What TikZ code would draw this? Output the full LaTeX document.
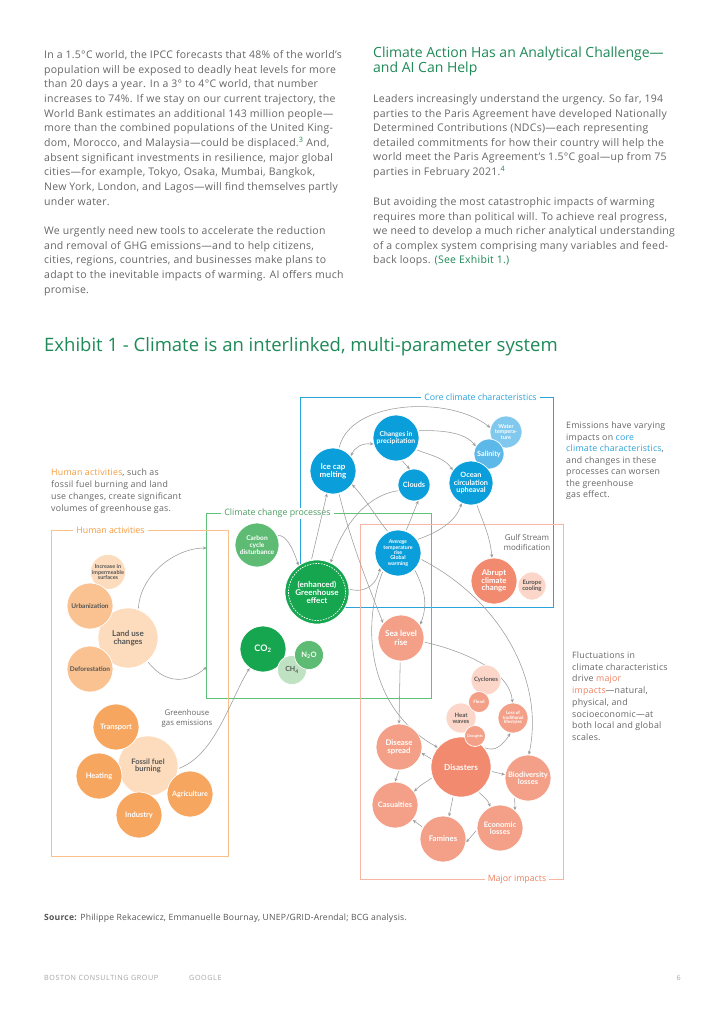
\documentclass[tikz,border=0pt]{standalone}
\usepackage{fontspec}
\setmainfont{Open Sans}
\newfontfamily\bubfam{Lato}
\newfontfamily\bodyfam{Open Sans}[LetterSpace=2.5]
\newfontfamily\widefam{Open Sans}[LetterSpace=8]
\usetikzlibrary{arrows.meta}
\pgfdeclarelayer{bg}
\pgfsetlayers{bg,main}
\definecolor{txtgray}{HTML}{666666}
\definecolor{dkgray}{HTML}{555555}
\definecolor{titlegreen}{HTML}{1E8A57}
\definecolor{arrgray}{HTML}{9B9B9B}
\definecolor{blueD}{HTML}{0A9EDB}
\definecolor{blueM}{HTML}{5CB8E8}
\definecolor{blueL}{HTML}{80C8EE}
\definecolor{boxblue}{HTML}{2AA3DB}
\definecolor{greenD}{HTML}{17A650}
\definecolor{greenM}{HTML}{5DBB74}
\definecolor{greenL}{HTML}{BFE2C3}
\definecolor{boxgreen}{HTML}{5EC27A}
\definecolor{orangeD}{HTML}{F7A660}
\definecolor{orangeM}{HTML}{F9C290}
\definecolor{orangeL}{HTML}{FDDCBD}
\definecolor{boxorange}{HTML}{F9C08A}
\definecolor{horange}{HTML}{F79A3E}
\definecolor{salD}{HTML}{F18A6E}
\definecolor{salM}{HTML}{F4A088}
\definecolor{salL}{HTML}{FCD6C8}
\definecolor{boxsal}{HTML}{F7B6A4}
\definecolor{salT}{HTML}{F08060}
\newcommand{\bodyfnt}{\bodyfam\fontsize{10.5}{12}\selectfont}
\newcommand{\sidefnt}{\bodyfam\fontsize{8.8}{10}\selectfont}
\newcommand{\bfnt}[1]{\bubfam\fontsize{#1}{#1}\selectfont\bfseries}
\tikzset{
  bodyline/.style={anchor=base west, inner sep=0pt, text=txtgray, font=\bodyfnt},
  sideline/.style={anchor=base west, inner sep=0pt, text=txtgray, font=\sidefnt},
  bub/.style={circle, inner sep=0pt, align=center, draw=white, line width=0.7pt, text=white},
  boxlabel/.style={fill=white, inner xsep=3pt, inner ysep=1pt, font=\fontsize{8.8}{10}\selectfont},
  arr/.style={draw=arrgray, line width=0.55pt, -{Stealth[length=3.6pt,width=3.2pt]}, shorten <=1pt},
  darr/.style={draw=arrgray, line width=0.55pt, {Stealth[length=3.6pt,width=3.2pt]}-{Stealth[length=3.6pt,width=3.2pt]}},
  boxline/.style={line width=0.9pt},
}
\begin{document}
\begin{tikzpicture}[x=1pt,y=-1pt]
\useasboundingbox (0,0) rectangle (724,1024);

% ---------- Left column text ----------
\foreach \ln [count=\i from 0] in {
 {In a 1.5°C world, the IPCC forecasts that 48\% of the world’s},
 {population will be exposed to deadly heat levels for more},
 {than 20 days a year. In a 3° to 4°C world, that number},
 {increases to 74\%. If we stay on our current trajectory, the},
 {World Bank estimates an additional 143 million people—},
 {more than the combined populations of the United King-},
 {dom, Morocco, and Malaysia—could be displaced.\textsuperscript{\textcolor{titlegreen}{3}} And,},
 {absent significant investments in resilience, major global},
 {cities—for example, Tokyo, Osaka, Mumbai, Bangkok,},
 {New York, London, and Lagos—will find themselves partly},
 {under water.}}
 \node[bodyline] (lp\i) at (44,58.7+14.65*\i) {\ln};
\foreach \ln [count=\i from 12] in {
 {We urgently need new tools to accelerate the reduction},
 {and removal of GHG emissions—and to help citizens,},
 {cities, regions, countries, and businesses make plans to},
 {adapt to the inevitable impacts of warming. AI offers much},
 {promise.}}
 \node[bodyline] (lq\i) at (44,58.7+14.65*\i) {\ln};

% ---------- Right column ----------
\node[anchor=base west, inner sep=0pt, text=titlegreen, font=\fontsize{14}{15}\selectfont] (h1) at (373,58) {Climate Action Has an Analytical Challenge—};
\node[anchor=base west, inner sep=0pt, text=titlegreen, font=\fontsize{14}{15}\selectfont] (h2) at (373,73) {and AI Can Help};
\foreach \ln [count=\i from 0] in {
 {Leaders increasingly understand the urgency. So far, 194},
 {parties to the Paris Agreement have developed Nationally},
 {Determined Contributions (NDCs)—each representing},
 {detailed commitments for how their country will help the},
 {world meet the Paris Agreement’s 1.5°C goal—up from 75},
 {parties in February 2021.\textsuperscript{\textcolor{titlegreen}{4}}}}
 \node[bodyline] (rp\i) at (373,102.5+14.6*\i) {\ln};
\foreach \ln [count=\i from 0] in {
 {But avoiding the most catastrophic impacts of warming},
 {requires more than political will. To achieve real progress,},
 {we need to develop a much richer analytical understanding},
 {of a complex system comprising many variables and feed-},
 {back loops. \textcolor{titlegreen}{(See Exhibit 1.)}}}
 \node[bodyline] (rq\i) at (373,205.5+14.55*\i) {\ln};

% ---------- Title ----------
\node[anchor=base west, inner sep=0pt, text=titlegreen, font=\fontsize{18.5}{20}\selectfont] (title) at (44,351.5) {Exhibit 1 - Climate is an interlinked, multi-parameter system};

% ---------- Side notes ----------
\foreach \ln [count=\i from 0] in {
 {Emissions have varying},
 {impacts on \textcolor{boxblue}{core}},
 {\textcolor{boxblue}{climate characteristics},},
 {and changes in these},
 {processes can worsen},
 {the greenhouse},
 {gas effect.}}
 \node[sideline] (sa\i) at (566,428.5+11.55*\i) {\ln};
\foreach \ln [count=\i from 0] in {
 {\textcolor{horange}{Human activities}, such as},
 {fossil fuel burning and land},
 {use changes, create significant},
 {volumes of greenhouse gas.}}
 \node[sideline] (sb\i) at (51,475.5+12*\i) {\ln};
\foreach \ln [count=\i from 0] in {
 {Fluctuations in},
 {climate characteristics},
 {drive \textcolor{salT}{major}},
 {\textcolor{salT}{impacts}—natural,},
 {physical, and},
 {socioeconomic—at},
 {both local and global},
 {scales.}}
 \node[sideline] (sc\i) at (572,658.5+11.7*\i) {\ln};
\node[align=center, inner sep=0pt, text=txtgray, font=\fontsize{8}{10}\selectfont] (gulf) at (527,542) {Gulf Stream\\modification};
\node[align=center, inner sep=0pt, text=txtgray, font=\fontsize{7.8}{10}\selectfont] (ghg) at (187,718) {Greenhouse\\gas emissions};

% ---------- Bubbles: core climate ----------
\node[bub, fill=blueL, minimum size=32pt, font=\bfnt{5.5}] (wtemp) at (506,432) {Water\\tempera-\\ture};
\node[bub, fill=blueM, minimum size=30pt, font=\bfnt{7.2}] (sal) at (489,454) {Salinity};
\node[bub, fill=blueD, minimum size=44pt, font=\bfnt{7.3}] (ocean) at (471,483) {Ocean\\circulation\\upheaval};
\node[bub, fill=blueD, minimum size=46pt, font=\bfnt{6.8}] (prec) at (396,438) {Changes in\\precipitation};
\node[bub, fill=blueD, minimum size=46pt, font=\bfnt{8}] (ice) at (333,471) {Ice cap\\melting};
\node[bub, fill=blueD, minimum size=32pt, font=\bfnt{7.3}] (clouds) at (414,485) {Clouds};
\node[bub, fill=blueD, minimum size=46pt, font=\bfnt{5.3}] (avg) at (398,553) {\itshape Average\\temperature\\rise\\Global\\warming};

% ---------- Bubbles: climate change processes ----------
\node[bub, fill=greenM, minimum size=44pt, font=\bfnt{6.6}] (carbon) at (257,545) {Carbon\\cycle\\disturbance};
\node[bub, fill=greenD, minimum size=64pt, font=\bfnt{8}] (ghe) at (317,592) {(enhanced)\\Greenhouse\\effect};
\draw[white, line width=0.7pt, dash pattern=on 1.6pt off 1.2pt] (ghe.center) circle (28.5pt);
\node[bub, fill=greenD, minimum size=46pt, font=\bfnt{9}] (co2) at (263,649) {CO\textsubscript{2}};
\node[bub, fill=greenL, minimum size=29pt, text=dkgray, font=\bfnt{7}] (ch4) at (292,670) {CH\textsubscript{4}};
\node[bub, fill=greenM, minimum size=29pt, font=\bfnt{7.5}] (n2o) at (309,655) {N\textsubscript{2}O};

% ---------- Abrupt / sea ----------
\node[bub, fill=salD, minimum size=46pt, font=\bfnt{7.8}] (abrupt) at (494,581) {Abrupt\\climate\\change};
\node[bub, fill=salL, minimum size=28pt, text=dkgray, font=\bfnt{6}] (europe) at (532,586) {Europe\\cooling};
\node[bub, fill=salM, minimum size=46pt, font=\bfnt{8.2}] (sea) at (401,638) {Sea level\\rise};

% ---------- Major impacts ----------
\node[bub, fill=salL, minimum size=30pt, text=dkgray, font=\bfnt{6}] (cyclones) at (486,680) {Cyclones};
\node[bub, fill=salL, minimum size=30pt, text=dkgray, font=\bfnt{6}] (heat) at (461,718) {Heat\\waves};
\node[bub, fill=salM, minimum size=21pt, font=\bfnt{4.5}] (flood) at (479,702) {Flood};
\node[bub, fill=salD, minimum size=60pt, font=\bfnt{8.2}] (disasters) at (461,767) {Disasters};
\node[bub, fill=salM, minimum size=21pt, font=\bfnt{3.8}] (droughts) at (475,736) {Droughts};
\node[bub, fill=salM, minimum size=30pt, font=\bfnt{4.5}] (loss) at (513,718) {Loss of\\traditional\\lifestyles};
\node[bub, fill=salM, minimum size=46pt, font=\bfnt{7.8}] (disease) at (399,747) {Disease\\spread};
\node[bub, fill=salM, minimum size=46pt, font=\bfnt{7.5}] (bio) at (528,778) {Biodiversity\\losses};
\node[bub, fill=salM, minimum size=46pt, font=\bfnt{7.5}] (casualties) at (395,805) {Casualties};
\node[bub, fill=salM, minimum size=46pt, font=\bfnt{7.8}] (famines) at (443,839) {Famines};
\node[bub, fill=salM, minimum size=46pt, font=\bfnt{7.5}] (econ) at (500,828) {Economic\\losses};

% ---------- Human activities ----------
\node[bub, fill=orangeL, minimum size=30pt, text=dkgray, font=\bfnt{5.5}] (incr) at (108,572) {Increase in\\impermeable\\surfaces};
\node[bub, fill=orangeL, minimum size=60pt, text=dkgray, font=\bfnt{8}] (landuse) at (128,638) {Land use\\changes};
\node[bub, fill=orangeM, minimum size=46pt, text=dkgray, font=\bfnt{6.5}] (urban) at (90,606) {Urbanization};
\node[bub, fill=orangeM, minimum size=46pt, text=dkgray, font=\bfnt{6.5}] (defor) at (90,669) {Deforestation};
\node[bub, fill=orangeL, minimum size=60pt, text=dkgray, font=\bfnt{7.5}] (fossil) at (148,766) {Fossil fuel\\burning};
\node[bub, fill=orangeD, minimum size=46pt, font=\bfnt{7.5}] (transport) at (116,727) {Transport};
\node[bub, fill=orangeD, minimum size=46pt, font=\bfnt{7.5}] (heating) at (99,776) {Heating};
\node[bub, fill=orangeD, minimum size=46pt, font=\bfnt{7.5}] (industry) at (139,815) {Industry};
\node[bub, fill=orangeD, minimum size=46pt, font=\bfnt{7.2}] (agri) at (190,794) {Agriculture};

\coordinate (gbin1) at (206.5,548);
\coordinate (gbin2) at (206.5,667);

% ---------- Boxes & arrows (background) ----------
\begin{pgfonlayer}{bg}
\fill[white] (0,0) rectangle (724,1024);
\draw[boxline, boxblue] (300,397) rectangle (553,607);
\draw[boxline, boxgreen] (206.5,513.5) rectangle (431.5,698.5);
\draw[boxline, boxorange] (51.5,530.5) rectangle (228,856);
\draw[boxline, boxsal] (360,524) rectangle (563.5,879);
\node[boxlabel, text=boxblue] (lblcore) at (480.5,397) {Core climate characteristics};
\node[boxlabel, text=boxgreen!80!black] (lblproc) at (277.5,513.5) {Climate change processes};
\node[boxlabel, text=horange] (lblhum) at (110.5,530.5) {Human activities};
\node[boxlabel, text=salT] (lblimp) at (517,879) {Major impacts};

% core
\draw[arr] (ice.75) .. controls (350,400) and (450,395) .. (wtemp.165);
\draw[darr] (ice.40) .. controls (355,447) and (362,443) .. (prec.195);
\draw[arr] (prec.18) .. controls (440,430) and (465,432) .. (sal.150);
\draw[arr] (prec.-75) -- (clouds.105);
\draw[arr] (prec.-30) .. controls (430,455) and (445,458) .. (ocean.145);
\draw[arr] (avg.70) -- (clouds.-75);
\draw[arr] (avg.35) .. controls (430,535) and (455,525) .. (ocean.-115);
\draw[arr] (avg.115) .. controls (378,520) and (370,505) .. (ice.-35);
\draw[arr] (ocean.-75) .. controls (482,520) and (490,535) .. (abrupt.95);
\draw[arr] (clouds.200) .. controls (370,495) and (345,520) .. (ghe.65);
\draw[arr] (ghe.100) -- (ice.-105);
\draw[arr] (carbon.25) .. controls (285,535) and (292,545) .. (ghe.125);
\draw[arr] (ghe.5) .. controls (360,592) and (375,590) .. (avg.-140);
\draw[arr] (ice.-75) .. controls (350,540) and (370,590) .. (sea.140);
\draw[arr] (avg.-45) .. controls (425,590) and (428,605) .. (sea.35);
\draw[arr] (avg.-15) .. controls (500,600) and (545,680) .. (bio.88);
\draw[arr] (sea.-10) .. controls (460,650) and (510,670) .. (loss.92);
\draw[arr] (sea.-92) -- (disease.90);
\draw[arr] (avg.-130) .. controls (360,630) and (370,710) .. (disasters.140);
% human
\draw[arr] (landuse.70) .. controls (140,575) and (175,548) .. (gbin1);
\draw[arr] (landuse.-50) .. controls (168,688) and (192,680) .. (gbin2);
\draw[arr] (fossil.-5) .. controls (215,755) and (230,700) .. (co2.-125);
% impacts
\draw[arr] (disasters.165) -- (disease.-15);
\draw[arr] (disease.-90) -- (casualties.90);
\draw[arr] (disasters.-160) .. controls (425,783) and (420,785) .. (casualties.35);
\draw[arr] (disasters.-105) -- (famines.75);
\draw[arr] (disasters.-55) .. controls (485,798) and (488,800) .. (econ.115);
\draw[arr] (disasters.-8) -- (bio.172);
\draw[arr] (disasters.40) .. controls (495,752) and (503,745) .. (loss.-100);
\draw[arr] (bio.-125) -- (econ.50);
\draw[arr] (econ.185) -- (famines.-8);
\draw[arr] (famines.150) -- (casualties.-40);
\end{pgfonlayer}

% ---------- Footer ----------
\node[anchor=base west, inner sep=0pt, text=dkgray, font=\bodyfam\fontsize{8.6}{9}\selectfont] (src) at (44,920.5) {\textbf{Source:} Philippe Rekacewicz, Emmanuelle Bournay, UNEP/GRID-Arendal; BCG analysis.};
\node[anchor=base west, inner sep=0pt, text=black!35, font=\widefam\fontsize{7.2}{8}\selectfont] (ft1) at (44,980) {BOSTON CONSULTING GROUP};
\node[anchor=base west, inner sep=0pt, text=black!35, font=\widefam\fontsize{7.2}{8}\selectfont] (ft2) at (189,980) {GOOGLE};
\node[anchor=base east, inner sep=0pt, text=black!35, font=\widefam\fontsize{7.2}{8}\selectfont] (ft3) at (681,980) {6};
\end{tikzpicture}
\end{document}
